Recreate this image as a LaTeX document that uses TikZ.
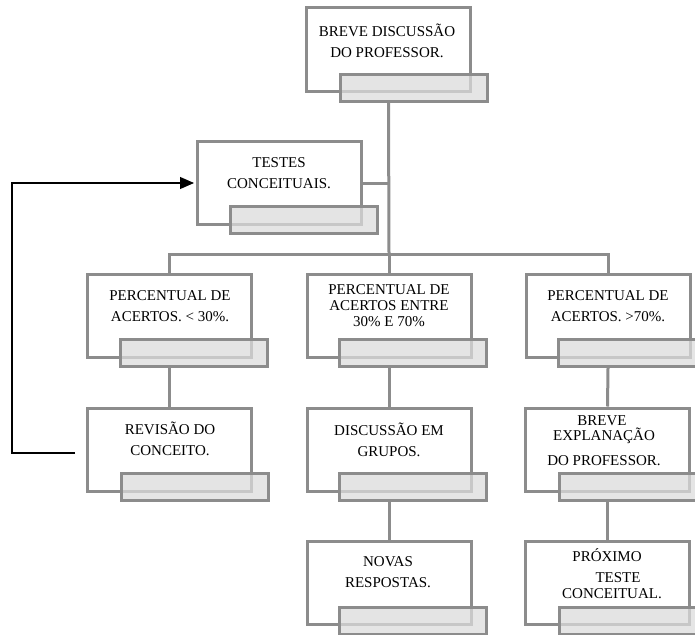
\documentclass[tikz,border=0pt]{standalone}
\usepackage{fontspec}
\setmainfont{Liberation Serif}
\usetikzlibrary{arrows.meta}
\definecolor{lineg}{HTML}{8C8C8C}
\definecolor{fillg}{HTML}{DCDCDC}
\tikzset{
  wbox/.style={draw=lineg, line width=3pt, fill=white, inner sep=0pt, minimum width=164pt, minimum height=83pt},
  gbox/.style={draw=lineg, line width=3pt, fill=fillg, fill opacity=0.75, inner sep=0pt, minimum width=147pt, minimum height=27pt},
  conn/.style={draw=lineg, line width=3pt},
  txt/.style={align=center, inner sep=0pt, font=\fontsize{15}{21}\selectfont},
  fb/.style={draw=black, line width=1.1pt}
}
\begin{document}
\begin{tikzpicture}[x=1pt,y=-1pt]
\useasboundingbox (0,0) rectangle (695,634);
% connectors first
\coordinate (bar) at (389,254);
\coordinate (barL) at (169.5,254);
\coordinate (barR) at (608,254);
% white boxes
\node[wbox] (top) at (388.5,49.5) {};
\node[wbox] (tst) at (279,183) {};
\node[wbox] (r2l) at (169.5,315.5) {};
\node[wbox] (r2m) at (389,315.5) {};
\node[wbox] (r2r) at (608,315.5) {};
\node[wbox] (r3l) at (169.5,449.5) {};
\node[wbox] (r3m) at (389,449.5) {};
\node[wbox] (r3r) at (607.5,449.5) {};
\node[wbox] (r4m) at (389,583) {};
\node[wbox] (r4r) at (607.5,583) {};
% gray boxes
\node[gbox] (topg) at (414,87.5) {};
\node[gbox] (tstg) at (304,220) {};
\node[gbox] (r2lg) at (194,353) {};
\node[gbox] (r2mg) at (413,353) {};
\node[gbox] (r2rg) at (632,353) {};
\node[gbox] (r3lg) at (194.5,487) {};
\node[gbox] (r3mg) at (413,487) {};
\node[gbox] (r3rg) at (633,487) {};
\node[gbox] (r4mg) at (413,621) {};
\node[gbox] (r4rg) at (633,621) {};
% tree connectors
\draw[conn] (top.south |- topg.south) -- (bar);
\draw[conn] (tst.east) -- (tst.east -| bar);
\draw[conn] (r2l.north) -- (barL) -- (barR) -- (r2r.north);
\draw[conn] (bar) -- (r2m.north);
\draw[conn] (r2l.south |- r2lg.south) -- (r3l.north);
\draw[conn] (r2m.south |- r2mg.south) -- (r3m.north);
\draw[conn] (r2r.south |- r2rg.south) -- (r3r.north);
\draw[conn] (r3m.south |- r3mg.south) -- (r4m.north);
\draw[conn] (r3r.south |- r3rg.south) -- (r4r.north);
% feedback arrow
\coordinate (fbA) at (75,453);
\coordinate (fbB) at (12,453);
\coordinate (fbC) at (12,183);
\draw[fb, -{Triangle[length=14pt,width=12pt]}] (fbA) -- (fbB) -- (fbC) -- ([xshift=-1.5pt]tst.west);
% texts
\node[txt] (t1) at (387,41) {BREVE DISCUSSÃO\\DO PROFESSOR.};
\node[txt] (t2) at (279,173) {TESTES\\CONCEITUAIS.};
\node[txt] (t3) at (170,306) {PERCENTUAL DE\\ACERTOS. \textless\ 30\%.};
\node[txt] (t4) at (389,306) {PERCENTUAL DE\\[-5pt]ACERTOS ENTRE\\[-5pt]30\% E 70\%};
\node[txt] (t5) at (608,306) {PERCENTUAL DE\\ACERTOS. \textgreater70\%.};
\node[txt] (t6) at (170,439) {REVISÃO DO\\CONCEITO.};
\node[txt] (t7) at (389,440) {DISCUSSÃO EM\\GRUPOS.};
\node[txt] (t8) at (604,441) {\hspace*{-4pt}BREVE\\[-6pt]EXPLANAÇÃO\hspace*{-4pt}\\[4pt]DO PROFESSOR.};
\node[txt] (t9) at (388,572) {NOVAS\\RESPOSTAS.};
\node[txt] (t10) at (612,574) {\hspace*{-10pt}PRÓXIMO\\\hspace*{12pt}TESTE\\[-5pt]CONCEITUAL.};
\end{tikzpicture}
\end{document}
